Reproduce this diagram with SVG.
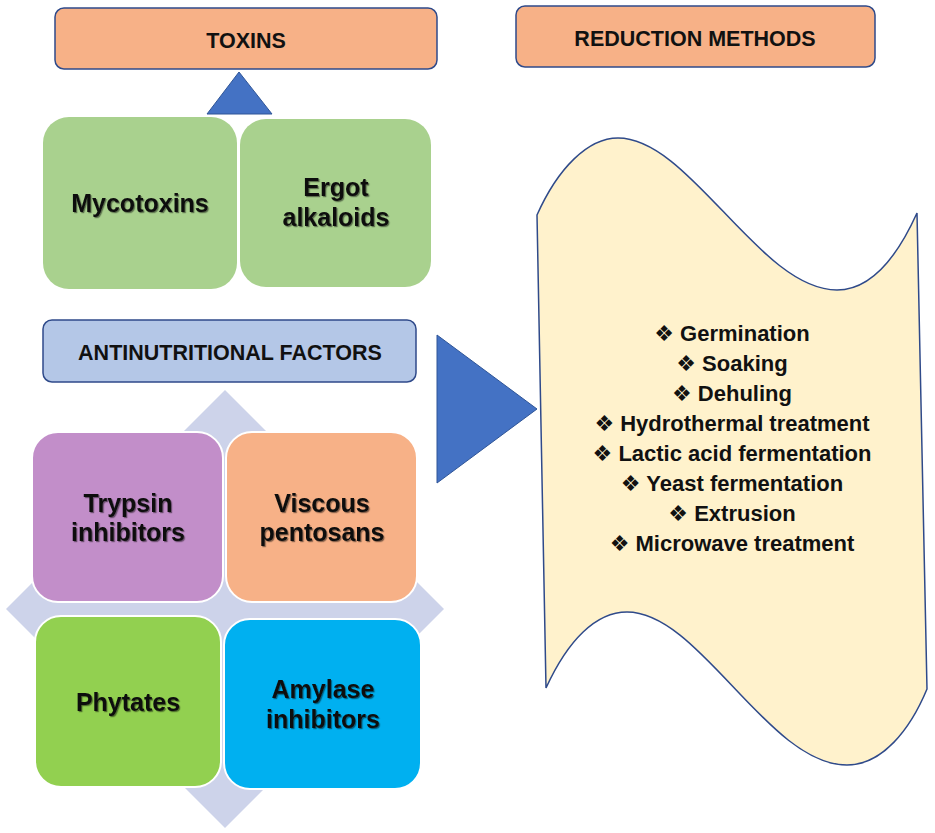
<svg xmlns="http://www.w3.org/2000/svg" width="935" height="833" viewBox="0 0 935 833">
<defs>
<filter id="sh" x="-10%" y="-10%" width="130%" height="140%">
<feDropShadow dx="1.2" dy="1.2" stdDeviation="0.6" flood-color="#000" flood-opacity="0.45"/>
</filter>
<style>
.hdr{fill:#f7b187;stroke:#2f4a8a;stroke-width:1.5}
.hdr2{fill:#b4c7e7;stroke:#2f4a8a;stroke-width:1.5}
.grn{fill:#a9d18e}
.tile{stroke:#fff;stroke-width:2}
.tri{fill:#4472c4;stroke:#2f5597;stroke-width:1}
text{font-family:"Liberation Sans","DejaVu Sans",Arial,sans-serif;font-weight:bold;fill:#111;text-anchor:middle}
.h{font-size:21.5px}
.n{font-size:25px;filter:url(#sh)}
.li{font-size:22px}
</style>
</defs>
<rect width="935" height="833" fill="#fff"/>

<g id="toxins">
<rect class="hdr" x="55" y="8" width="382" height="61" rx="9"/>
<text class="h" x="246" y="48">TOXINS</text>
</g>

<g id="reduction-methods">
<rect class="hdr" x="516" y="6" width="359" height="61" rx="9"/>
<text class="h" x="695" y="46">REDUCTION METHODS</text>
</g>

<g id="mycotoxins">
<rect class="grn" x="43" y="117" width="194" height="172" rx="26"/>
<text class="n" x="140" y="212">Mycotoxins</text>
</g>

<g id="ergot-alkaloids">
<rect class="grn" x="240" y="119" width="191" height="168" rx="26"/>
<text class="n" x="336" y="196">Ergot</text>
<text class="n" x="336" y="226">alkaloids</text>
</g>

<g id="antinutritional-factors">
<rect class="hdr2" x="43" y="320" width="373" height="62" rx="9"/>
<text class="h" x="230" y="360">ANTINUTRITIONAL FACTORS</text>
</g>

<g id="anf-group">
<polygon points="225,390 444,609 225,828 6,609" fill="#cdd3ea"/>
<g id="trypsin-inhibitors">
<rect class="tile" x="32" y="432" width="191" height="170" rx="26" fill="#c28ec9"/>
<text class="n" x="128" y="512">Trypsin</text>
<text class="n" x="128" y="541">inhibitors</text>
</g>
<g id="viscous-pentosans">
<rect class="tile" x="226" y="432" width="191" height="170" rx="26" fill="#f7b187"/>
<text class="n" x="322" y="512">Viscous</text>
<text class="n" x="322" y="541">pentosans</text>
</g>
<g id="phytates">
<rect class="tile" x="35" y="616" width="186" height="171" rx="26" fill="#92d050"/>
<text class="n" x="128" y="711">Phytates</text>
</g>
<g id="amylase-inhibitors">
<rect class="tile" x="224" y="619" width="197" height="170" rx="26" fill="#00b0f0"/>
<text class="n" x="323" y="698">Amylase</text>
<text class="n" x="323" y="728">inhibitors</text>
</g>
</g>

<g id="connectors">
<polygon class="tri" points="239,72 272,114 207,114"/>
<polygon class="tri" points="437,335 537,409 437,483"/>
</g>

<g id="methods-list">
<path d="M537,215 C558,168 588,138 618,138 C690,138 760,290 837,290 C872,290 898,255 917,213 L927,689 C910,730 882,765 847,765 C768,765 700,612 627,612 C596,612 568,640 546,688 Z" fill="#fff2cc" stroke="#2f4a8a" stroke-width="1.5"/>
<text class="li" x="732" y="341">❖ Germination</text>
<text class="li" x="732" y="371">❖ Soaking</text>
<text class="li" x="732" y="401">❖ Dehuling</text>
<text class="li" x="732" y="431">❖ Hydrothermal treatment</text>
<text class="li" x="732" y="461">❖ Lactic acid fermentation</text>
<text class="li" x="732" y="491">❖ Yeast fermentation</text>
<text class="li" x="732" y="521">❖ Extrusion</text>
<text class="li" x="732" y="551">❖ Microwave treatment</text>
</g>
</svg>
